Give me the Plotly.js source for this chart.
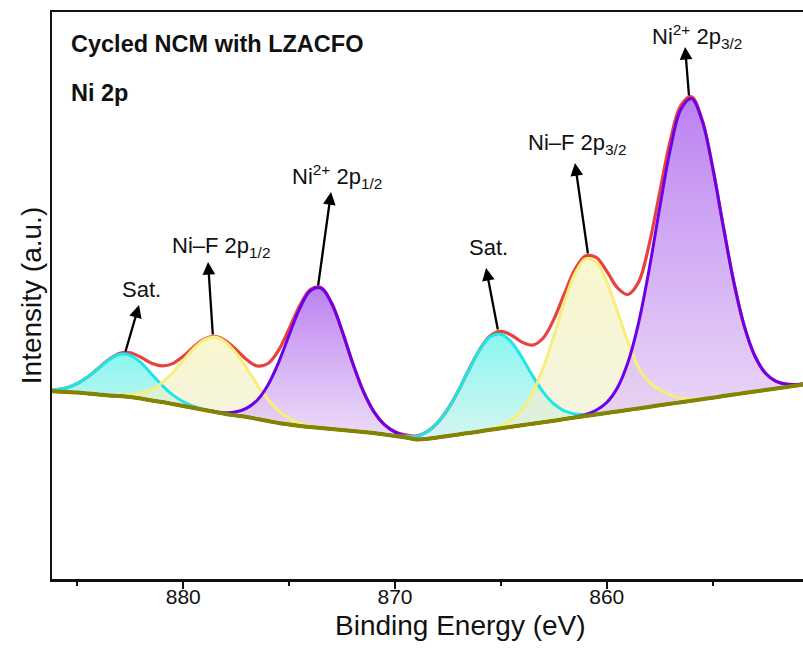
<!DOCTYPE html>
<html>
<head>
<meta charset="utf-8">
<script src="https://cdn.plot.ly/plotly-3.0.1.min.js"></script>
<style>html,body{margin:0;padding:0;background:#fff;}#chart{width:803px;height:652px;}</style>
</head>
<body>
<div id="chart"></div>
<script>
// Binding energy grid (eV)
const energy = [886.5,886,885.5,885,884.5,884,883.5,883,882.5,882,881.5,881,880.5,880,879.5,879,878.5,878,877.5,877,876.5,876,875.5,875,874.5,874,873.5,873,872.5,872,871.5,871,870.5,870,869.5,869,868.5,868,867.5,867,866.5,866,865.5,865,864.5,864,863.5,863,862.5,862,861.5,861,860.5,860,859.5,859,858.5,858,857.5,857,856.5,856,855.5,855,854.5,854,853.5,853,852.5,852,851.5,851,850.5];

// Shirley-type background (a.u.)
const background = [188,187.5,187,186.5,185.5,184.5,183.5,183,182,180.5,178.5,177,175,173,171,169,167,165,163.5,162,160,158,156,154.5,153,152,151,150,149,148,147,146,144.5,143,141.5,139.5,140,141.5,143,144.6,146.1,147.6,149.2,150.7,152.2,153.8,155.3,156.8,158.3,159.9,161.4,162.9,164.5,166,167.5,169.1,170.6,172.1,173.7,175.2,176.7,178.3,179.8,181.3,182.9,184.4,185.9,187.5,189,190.5,192.1,193.6,195.1];

// Fitted envelope (a.u.)
const envelope = [188.6,189.2,191.2,195.6,202.2,211.0,219.7,225.7,226.2,221.7,215.7,213.1,215.4,222.7,232.3,240.1,242.6,238.2,229.4,219.3,213.0,215.5,228.7,250.3,273.3,289.5,291.5,276.2,248.1,216.0,187.8,167.4,154.4,147.3,144.1,143.0,147.2,156.2,170.0,188.6,209.8,229.5,243.2,247.6,243.8,236.9,233.9,241.0,259.6,285.3,309.5,323.0,321.6,307.9,291.4,284.5,296.7,334.1,386.4,438.3,473.6,482.3,459.5,412.0,353.2,297.1,252.6,222.8,205.7,197.6,194.8,194.5,195.4];

// Components (component + background, a.u.)
const satLow = [188.6,189.2,191.2,195.6,202.2,210.9,219.3,224.7,223.7,216.3,204.9,193.7,184.1,177.2,172.7,169.6,167.2,165,163.5,162,160,158,156,154.5,153,152,151,150,149,148,147,146,144.5,143,141.5,139.5,140,141.5,143,144.6,146.1,147.6,149.2,150.7,152.2,153.8,155.3,156.8,158.3,159.9,161.4,162.9,164.5,166,167.5,169.1,170.6,172.1,173.7,175.2,176.7,178.3,179.8,181.3,182.9,184.4,185.9,187.5,189,190.5,192.1,193.6,195.1];

const niF12 = [188,187.5,187,186.5,185.5,184.6,183.9,184.0,184.5,185.9,189.3,196.4,206.3,218.5,230.6,239.4,242.0,236.9,225.7,210.4,194.0,179.5,168.3,160.8,155.9,153.2,151.5,150.2,149.1,148,147,146,144.5,143,141.5,139.5,140,141.5,143,144.6,146.1,147.6,149.2,150.7,152.2,153.8,155.3,156.8,158.3,159.9,161.4,162.9,164.5,166,167.5,169.1,170.6,172.1,173.7,175.2,176.7,178.3,179.8,181.3,182.9,184.4,185.9,187.5,189,190.5,192.1,193.6,195.1];

const ni2p12 = [188,187.5,187,186.5,185.5,184.5,183.5,183,182,180.5,178.5,177,175,173,171,169.1,167.4,166.3,167.2,170.9,179.0,194.0,216.4,244.0,270.4,288.3,291.0,276.0,248.0,216.0,187.8,167.4,154.3,146.9,142.9,139.9,140.1,141.5,143,144.6,146.1,147.6,149.2,150.7,152.2,153.8,155.3,156.8,158.3,159.9,161.4,162.9,164.5,166,167.5,169.1,170.6,172.1,173.7,175.2,176.7,178.3,179.8,181.3,182.9,184.4,185.9,187.5,189,190.5,192.1,193.6,195.1];

const satHigh = [188,187.5,187,186.5,185.5,184.5,183.5,183,182,180.5,178.5,177,175,173,171,169,167,165,163.5,162,160,158,156,154.5,153,152,151,150,149,148,147,146,144.6,143.4,142.7,142.6,147.1,156.2,170.0,188.6,209.7,229.2,242.2,244.8,236.8,221.3,203.1,186.8,175.1,168.2,165.1,164.3,165.0,166.2,167.5,169.1,170.6,172.1,173.7,175.2,176.7,178.3,179.8,181.3,182.9,184.4,185.9,187.5,189,190.5,192.1,193.6,195.1];

const niF32 = [188,187.5,187,186.5,185.5,184.5,183.5,183,182,180.5,178.5,177,175,173,171,169,167,165,163.5,162,160,158,156,154.5,153,152,151,150,149,148,147,146,144.5,143,141.5,139.5,140,141.5,143,144.6,146.2,147.9,150.2,153.5,159.2,169.4,186.1,211.0,242.8,276.9,305.3,320.1,316.9,297.2,267.8,237.1,211.6,197.1,189.2,184.2,180.7,180.1,180.6,181.6,182.9,184.4,185.9,187.5,189,190.5,192.1,193.6,195.1];

const ni2p32 = [188,187.5,187,186.5,185.5,184.5,183.5,183,182,180.5,178.5,177,175,173,171,169,167,165,163.5,162,160,158,156,154.5,153,152,151,150,149,148,147,146,144.5,143,141.5,139.5,140,141.5,143,144.6,146.1,147.6,149.2,150.7,152.2,153.8,155.3,156.8,158.3,160.0,161.9,164.4,168.7,176.5,191.1,216.5,255.7,309.1,370.9,429.3,469.6,480.5,458.7,411.7,353.2,297.1,252.6,222.8,205.7,197.6,194.8,194.5,195.4];

// Peak labels
const peakLabels = ["Sat.", "Ni–F 2p<sub>1/2</sub>", "Ni<sup>2+</sup> 2p<sub>1/2</sub>", "Sat.", "Ni–F 2p<sub>3/2</sub>", "Ni<sup>2+</sup> 2p<sub>3/2</sub>"];
const xTicks = [880, 870, 860];

// ---------- styling / layout ----------
const FONT = 'Arial, "Liberation Sans", sans-serif';
const comps = [
  {y: satLow,  line: '#1fe6e6', grad: [[0,'rgba(175,238,232,0.55)'],[1,'rgba(105,245,235,0.8)']]},
  {y: niF12,   line: '#f8ee7c', grad: [[0,'rgba(238,236,205,0.6)'],[1,'rgba(247,245,190,0.75)']]},
  {y: ni2p12,  line: '#6c00e8', grad: [[0,'rgba(230,208,246,0.75)'],[1,'rgba(180,115,240,0.9)']]},
  {y: satHigh, line: '#1fe6e6', grad: [[0,'rgba(175,238,232,0.55)'],[1,'rgba(105,245,235,0.8)']]},
  {y: niF32,   line: '#f8ee7c', grad: [[0,'rgba(238,236,205,0.6)'],[1,'rgba(247,245,190,0.75)']]},
  {y: ni2p32,  line: '#6c00e8', grad: [[0,'rgba(230,208,246,0.75)'],[1,'rgba(180,115,240,0.9)']]}
];

const traces = [];
comps.forEach(c => {
  traces.push({x: energy, y: background, mode: 'lines', line: {width: 0, shape: 'spline'}, hoverinfo: 'skip', showlegend: false});
  traces.push({x: energy, y: c.y, mode: 'lines', fill: 'tonexty',
    fillgradient: {type: 'vertical', colorscale: c.grad},
    line: {width: 0, shape: 'spline'}, hoverinfo: 'skip', showlegend: false});
});
traces.push({x: energy, y: envelope, mode: 'lines', line: {color: '#e8423f', width: 3.2, shape: 'spline'}, showlegend: false});
comps.forEach(c => {
  traces.push({x: energy, y: c.y, mode: 'lines', line: {color: c.line, width: 3, shape: 'spline'}, showlegend: false});
});
traces.push({x: energy, y: background, mode: 'lines', line: {color: '#848400', width: 4, shape: 'spline'}, showlegend: false});

// arrow geometry: [headE, headI, tailE, tailI, labelE, labelI]
const arrowGeom = [
  [882.09, 274, 882.75, 226, 881.99, 290],
  [878.83, 317, 878.6, 243, 878.21, 332],
  [873.02, 387, 873.64, 292, 872.74, 403],
  [865.70, 311, 865.13, 248, 865.57, 332],
  [861.50, 416, 860.88, 324, 861.41, 435],
  [856.30, 532, 856.11, 482, 855.73, 543]
];
const annotations = [];
arrowGeom.forEach((g, i) => {
  annotations.push({x: g[0], y: g[1], ax: g[2], ay: g[3], xref: 'x', yref: 'y', axref: 'x', ayref: 'y',
    text: '', showarrow: true, arrowhead: 2, arrowsize: 1.1, arrowwidth: 2.3, arrowcolor: '#000'});
  annotations.push({x: g[4], y: g[5], xref: 'x', yref: 'y', text: peakLabels[i], showarrow: false,
    xanchor: 'center', yanchor: 'middle', font: {family: FONT, size: 22, color: '#111'}});
});
annotations.push({x: 0.023, y: 0.9436, xref: 'paper', yref: 'paper', xanchor: 'left', yanchor: 'middle',
  text: '<b>Cycled NCM with LZACFO</b>', showarrow: false, font: {family: FONT, size: 23.5, color: '#111'}});
annotations.push({x: 0.023, y: 0.858, xref: 'paper', yref: 'paper', xanchor: 'left', yanchor: 'middle',
  text: '<b>Ni 2p</b>', showarrow: false, font: {family: FONT, size: 23.5, color: '#111'}});
annotations.push({x: 0.5433, y: -0.082, xref: 'paper', yref: 'paper', xanchor: 'center', yanchor: 'middle',
  text: 'Binding Energy (eV)', showarrow: false, font: {family: FONT, size: 28, color: '#111'}});

const layout = {
  width: 803, height: 652,
  margin: {l: 52, r: 0, t: 12, b: 73},
  paper_bgcolor: '#fff', plot_bgcolor: '#fff',
  font: {family: FONT, color: '#111'},
  showlegend: false,
  xaxis: {
    range: [886.2, 850.73], tickmode: 'array', tickvals: xTicks, ticktext: xTicks.map(String),
    ticks: 'outside', ticklen: 7, tickwidth: 2, tickcolor: '#111', ticklabelstandoff: -10,
    minor: {tickmode: 'linear', tick0: 0, dtick: 5, ticks: 'outside', ticklen: 4, tickwidth: 2, tickcolor: '#111'},
    tickfont: {family: FONT, size: 21, color: '#111'},
    showline: true, linewidth: 2.5, linecolor: '#111', mirror: true,
    showgrid: false, zeroline: false
  },
  yaxis: {
    range: [0, 567], showticklabels: false, ticks: '',
    showline: true, linewidth: 2.5, linecolor: '#111',
    showgrid: false, zeroline: false,
    title: {text: 'Intensity (a.u.)', font: {family: FONT, size: 28, color: '#111'}, standoff: 0}
  },
  annotations: annotations
};

Plotly.newPlot('chart', traces, layout, {displayModeBar: false, staticPlot: true});
</script>
</body>
</html>
